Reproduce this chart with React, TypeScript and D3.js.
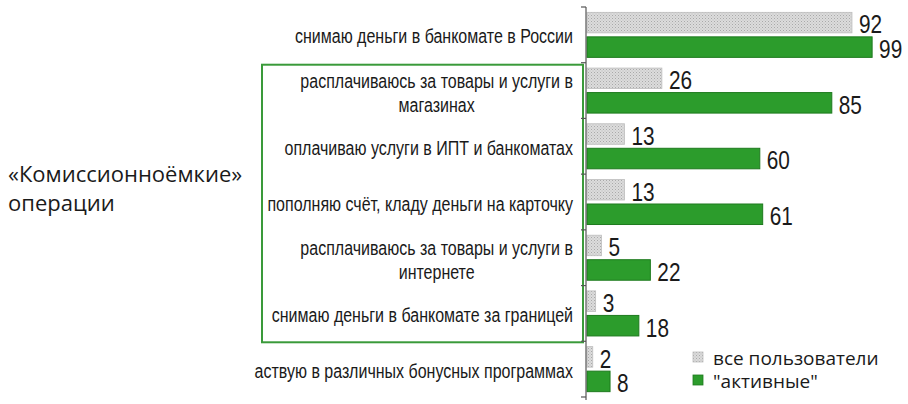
import React, { useEffect, useRef } from 'react';
import * as d3 from 'd3';

// categories: each label split into display lines
const categories = [
  ['снимаю деньги в банкомате в России'],
  ['расплачиваюсь за товары и услуги в', 'магазинах'],
  ['оплачиваю услуги в ИПТ и банкоматах'],
  ['пополняю счёт, кладу деньги на карточку'],
  ['расплачиваюсь за товары и услуги в', 'интернете'],
  ['снимаю деньги в банкомате за границей'],
  ['участвую в различных бонусных программах'],
];
const allUsers = [92, 26, 13, 13, 5, 3, 2];
const activeUsers = [99, 85, 60, 61, 22, 18, 8];
const seriesNames = ['все пользователи', '"активные"'];
const headingLines = ['«Комиссионноёмкие»', 'операции'];

const GREEN = '#2c9c2c';
const GREEN_DARK = '#1e7a1e';
const FONT = '"Liberation Sans", Arial, sans-serif';
const SQUEEZE = 0.8; // the source renders a condensed face

export default function App() {
  const svgRef = useRef<SVGSVGElement>(null);

  useEffect(() => {
    if (!svgRef.current) return;
    draw();
  }, []);

  const draw = () => {
    const svg = d3.select(svgRef.current);
    svg.selectAll('*').remove();

    const width = 908;
    const height = 404;
    svg.attr('width', width).attr('height', height);

    const keys = categories.map((_, i) => String(i));

    // Scales
    const x = d3.scaleLinear().domain([0, 100]).range([587, 875]);
    const y = d3.scaleBand().domain(keys).range([7, 397]);
    const sub = d3
      .scaleBand()
      .domain(['all', 'active'])
      .range([0, y.bandwidth()])
      .paddingInner(0.163)
      .paddingOuter(0.218);

    // Pattern for the grey series
    const defs = svg.append('defs');
    const pat = defs
      .append('pattern')
      .attr('id', 'dots')
      .attr('patternUnits', 'userSpaceOnUse')
      .attr('width', 3)
      .attr('height', 3);
    pat.append('rect').attr('width', 3).attr('height', 3).attr('fill', '#dcdcdc');
    pat.append('rect').attr('width', 1).attr('height', 1).attr('fill', '#a9a9a9');
    pat.append('rect').attr('x', 1.5).attr('y', 1.5).attr('width', 1).attr('height', 1).attr('fill', '#b8b8b8');

    defs
      .append('clipPath')
      .attr('id', 'labelClip')
      .append('rect')
      .attr('x', 254)
      .attr('y', 0)
      .attr('width', 330)
      .attr('height', height);

    svg.append('rect').attr('width', width).attr('height', height).attr('fill', '#fff');

    // Highlight box around the "commission" operations
    const boxTop = (y('1') as number) + 2;
    const boxBottom = (y('6') as number) + 1;
    svg
      .append('rect')
      .attr('x', 262)
      .attr('y', boxTop)
      .attr('width', 321)
      .attr('height', boxBottom - boxTop)
      .attr('fill', 'none')
      .attr('stroke', '#3a9a3a')
      .attr('stroke-width', 2);

    // Bars
    const rows = keys.map((k, i) => ({ k, all: allUsers[i], active: activeUsers[i] }));

    const g = svg.append('g');
    g.selectAll('.bar-all')
      .data(rows)
      .enter()
      .append('rect')
      .attr('x', x(0))
      .attr('y', (d) => (y(d.k) as number) + (sub('all') as number))
      .attr('width', (d) => x(d.all) - x(0))
      .attr('height', sub.bandwidth())
      .attr('fill', 'url(#dots)')
      .attr('stroke', '#bdbdbd')
      .attr('stroke-width', 0.8);

    g.selectAll('.bar-active')
      .data(rows)
      .enter()
      .append('rect')
      .attr('x', x(0))
      .attr('y', (d) => (y(d.k) as number) + (sub('active') as number))
      .attr('width', (d) => x(d.active) - x(0))
      .attr('height', sub.bandwidth())
      .attr('fill', GREEN)
      .attr('stroke', GREEN_DARK)
      .attr('stroke-width', 1);

    // Value labels
    const valueLabel = (key: 'all' | 'active') =>
      g
        .selectAll('.val-' + key)
        .data(rows)
        .enter()
        .append('text')
        .attr(
          'transform',
          (d) =>
            `translate(${x(d[key]) + 7},${(y(d.k) as number) + (sub(key) as number) + sub.bandwidth() / 2 + 2}) scale(${SQUEEZE},1)`
        )
        .attr('dominant-baseline', 'central')
        .style('font-family', FONT)
        .style('font-size', '26px')
        .style('fill', '#1a1a1a')
        .text((d) => String(d[key]));
    valueLabel('all');
    valueLabel('active');

    // Axis line with ticks on band boundaries
    const axisX = 586;
    const [r0, r1] = y.range();
    svg
      .append('line')
      .attr('x1', axisX)
      .attr('x2', axisX)
      .attr('y1', r0)
      .attr('y2', r1 + 3)
      .attr('stroke', '#555')
      .attr('stroke-width', 1.2);
    const bounds = d3.range(keys.length + 1).map((i) => r0 + i * y.step());
    svg
      .selectAll('.tick')
      .data(bounds)
      .enter()
      .append('line')
      .attr('x1', axisX - 5)
      .attr('x2', axisX)
      .attr('y1', (d) => d)
      .attr('y2', (d) => d)
      .attr('stroke', '#555')
      .attr('stroke-width', 1.2);

    // Category labels
    const labels = svg.append('g').attr('clip-path', 'url(#labelClip)');
    const addLabel = (txt: string, tx: number, ty: number, anchor: string) =>
      labels
        .append('text')
        .attr('transform', `translate(${tx},${ty}) scale(${SQUEEZE},1)`)
        .attr('text-anchor', anchor)
        .attr('dominant-baseline', 'central')
        .style('font-family', FONT)
        .style('font-size', '20px')
        .style('fill', '#1a1a1a')
        .text(txt);

    categories.forEach((lines, i) => {
      const cy = (y(String(i)) as number) + y.bandwidth() / 2 + 2;
      const t1 = addLabel(lines[0], 573, lines.length > 1 ? cy - 11 : cy, 'end');
      if (lines.length > 1) {
        const w = (t1.node() as SVGTextElement).getComputedTextLength() * SQUEEZE;
        addLabel(lines[1], 573 - w / 2, cy + 13, 'middle');
      }
    });

    // Left heading
    headingLines.forEach((line, i) => {
      svg
        .append('text')
        .attr('x', 8)
        .attr('y', 182 + i * 29)
        .style('font-family', '"Open Sans", sans-serif')
        .style('font-size', '22px')
        .style('fill', '#1a1a1a')
        .text(line);
    });

    // Legend
    const legend = svg.append('g').attr('transform', 'translate(693,352)');
    seriesNames.forEach((name, i) => {
      legend
        .append('rect')
        .attr('x', 0)
        .attr('y', i * 23)
        .attr('width', 10)
        .attr('height', 10)
        .attr('fill', i === 0 ? 'url(#dots)' : GREEN)
        .attr('stroke', i === 0 ? '#bdbdbd' : GREEN_DARK)
        .attr('stroke-width', 0.8);
      legend
        .append('text')
        .attr('x', 20)
        .attr('y', i * 23 + 6)
        .attr('dominant-baseline', 'central')
        .style('font-family', '"Open Sans", sans-serif')
        .style('font-size', '19px')
        .style('fill', '#1a1a1a')
        .text(name);
    });
  };

  return (
    <svg ref={svgRef} style={{ position: 'absolute', left: 0, top: 0, display: 'block' }}></svg>
  );
}
